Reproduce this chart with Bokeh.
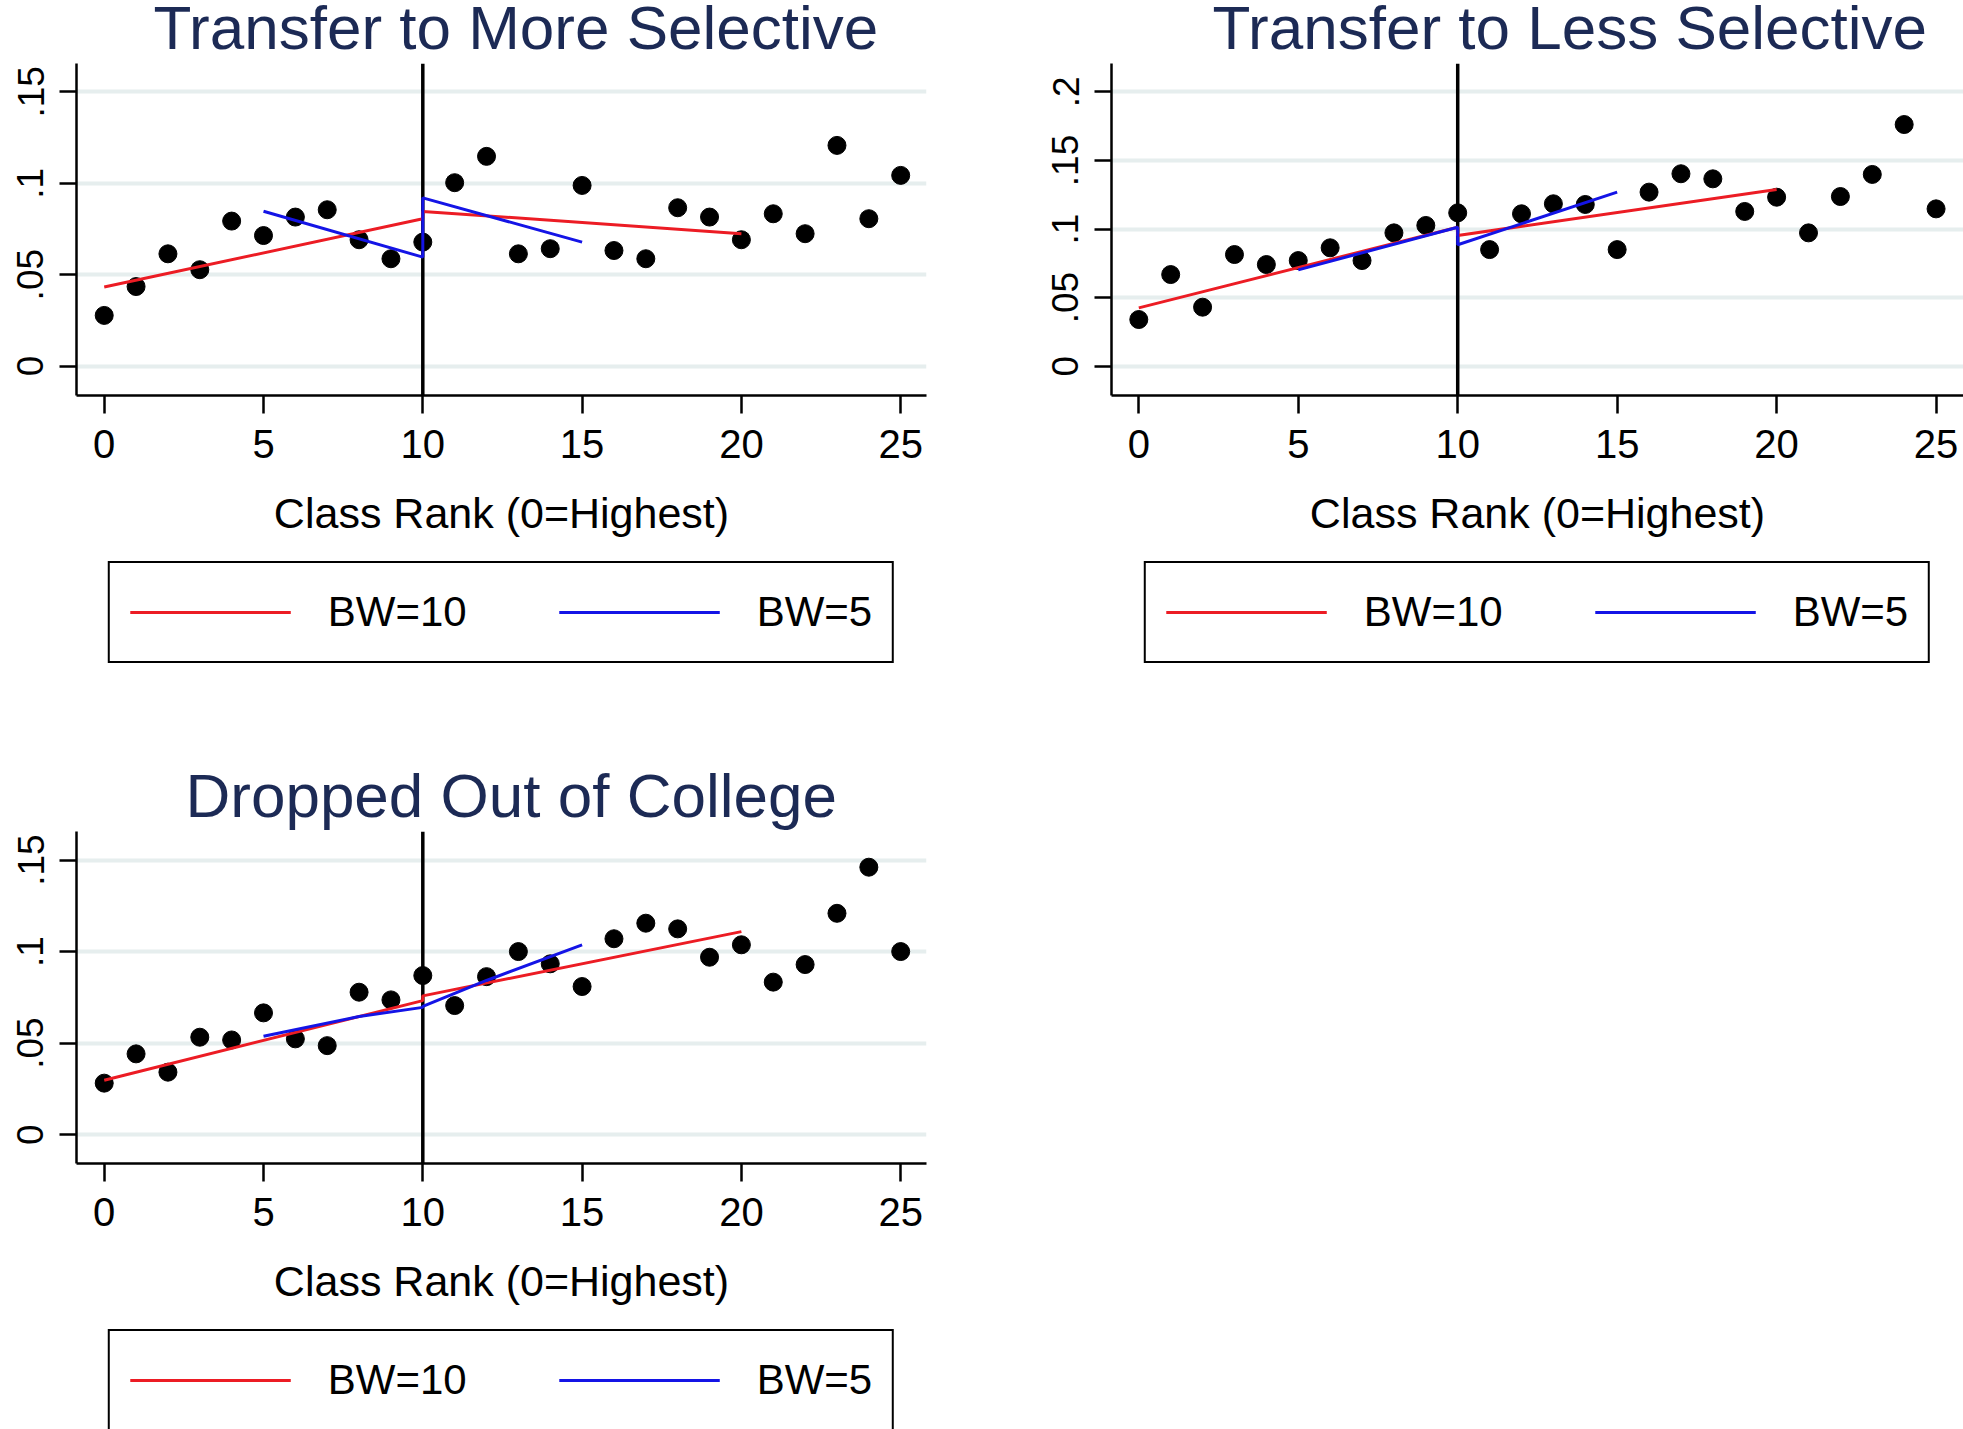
import numpy as np
from bokeh.plotting import figure
from bokeh.layouts import column, row
from bokeh.models import Span, Legend, LegendItem, FixedTicker, Range1d, Label
from bokeh.embed import file_html
from bokeh.resources import INLINE

# ---------------- data ----------------
rank = list(range(26))
more_selective = [0.0277, 0.0435, 0.0614, 0.0527, 0.0793, 0.0714, 0.0815, 0.0855, 0.0691, 0.0587,
                  0.0678, 0.1003, 0.1147, 0.0614, 0.0642, 0.0988, 0.0632, 0.0587, 0.0866, 0.0815,
                  0.0691, 0.0833, 0.0724, 0.1207, 0.0806, 0.1043]
less_selective = [0.0340, 0.0668, 0.0430, 0.0814, 0.0741, 0.0770, 0.0863, 0.0770, 0.0972, 0.1026,
                  0.1118, 0.0850, 0.1111, 0.1184, 0.1179, 0.0850, 0.1269, 0.1403, 0.1366, 0.1128,
                  0.1232, 0.0972, 0.1237, 0.1398, 0.1762, 0.1147]
dropped_out = [0.0281, 0.0441, 0.0341, 0.0532, 0.0517, 0.0665, 0.0523, 0.0486, 0.0778, 0.0736,
               0.0869, 0.0705, 0.0863, 0.1000, 0.0933, 0.0809, 0.1070, 0.1155, 0.1124, 0.0969,
               0.1037, 0.0833, 0.0929, 0.1209, 0.1461, 0.1000]

fit_x_bw10 = [0, 10, 10, 20]
fit_x_bw5 = [5, 10, 10, 15]
more_bw10 = [0.0432, 0.0806, 0.0846, 0.0724]
more_bw5 = [0.0847, 0.0596, 0.0920, 0.0678]
less_bw10 = [0.0425, 0.1013, 0.0953, 0.1288]
less_bw5 = [0.0702, 0.1013, 0.0885, 0.1269]
drop_bw10 = [0.0297, 0.0732, 0.0758, 0.1109]
drop_x_bw5 = [5, 8, 10, 10, 12, 15]
drop_bw5 = [0.0537, 0.0645, 0.0695, 0.0700, 0.0842, 0.1037]

cutoff = 10
x_ticks = [0, 5, 10, 15, 20, 25]
y_ticks_a = [0, 0.05, 0.1, 0.15]
y_labels_a = ["0", ".05", ".1", ".15"]
y_ticks_b = [0, 0.05, 0.1, 0.15, 0.2]
y_labels_b = ["0", ".05", ".1", ".15", ".2"]
titles = ["Transfer to More Selective", "Transfer to Less Selective", "Dropped Out of College"]
x_title = "Class Rank (0=Highest)"
legend_labels = ["BW=10", "BW=5"]

# ---------------- styling ----------------
FONT = "Liberation Sans"
TITLE_COLOR = "#1c2a55"
RED = "#ec1c24"
BLUE = "#1414e6"
GRID = "#e6eeee"
LEFT, TITLE_H, FH, PLOT_H = 76, 63, 332, 497
LINE_W = 3


def bare(f):
    f.grid.visible = False
    f.outline_line_color = None
    f.background_fill_color = "white"
    f.border_fill_color = "white"
    return f


def title_fig(text, width, frame_w, left_x):
    # frame is aligned with the plot frame below, so use canvas-pixel data units
    t = figure(width=width, height=TITLE_H,
               x_range=Range1d(LEFT, LEFT + frame_w), y_range=Range1d(0, TITLE_H),
               output_backend="svg", toolbar_location=None,
               x_axis_location=None, y_axis_location=None,
               min_border_left=LEFT, min_border_right=width - LEFT - frame_w,
               min_border_top=0, min_border_bottom=0)
    bare(t)
    t.add_layout(Label(x=left_x, y=36, text=text, text_align="left",
                       text_baseline="alphabetic", text_font=FONT,
                       text_font_size="62px", text_color=TITLE_COLOR))
    return t


def legend_fig(width, height, frame_w):
    lf = figure(width=width, height=height, x_range=Range1d(0, 1), y_range=Range1d(0, 1),
                output_backend="svg", toolbar_location=None,
                x_axis_location=None, y_axis_location=None,
                min_border_left=LEFT, min_border_right=width - LEFT - frame_w,
                min_border_top=0, min_border_bottom=0)
    bare(lf)
    # legend proxies (no visible data)
    r10 = lf.line(np.array([np.nan]), np.array([np.nan]), line_color=RED, line_width=LINE_W)
    r5 = lf.line(np.array([np.nan]), np.array([np.nan]), line_color=BLUE, line_width=LINE_W)
    legend = Legend(items=[LegendItem(label=legend_labels[0], renderers=[r10]),
                           LegendItem(label=legend_labels[1], renderers=[r5])],
                    orientation="horizontal", location="top_center", margin=1,
                    padding=20, spacing=92, label_standoff=37,
                    glyph_width=161, glyph_height=58, label_height=58,
                    label_text_font=FONT, label_text_font_size="42px",
                    label_text_color="black",
                    border_line_color="black", border_line_width=2.5, border_line_alpha=1.0,
                    background_fill_color="white", background_fill_alpha=1.0)
    lf.add_layout(legend)
    return lf


def plot_fig(yvals, x10, y10, x5, y5, yticks, ylabels, xr, yr, width, frame_w):
    p = figure(width=width, height=PLOT_H,
               x_range=Range1d(*xr), y_range=Range1d(*yr),
               output_backend="svg", toolbar_location=None,
               min_border_left=LEFT, min_border_right=width - LEFT - frame_w,
               min_border_top=0, min_border_bottom=PLOT_H - FH)
    bare(p)
    p.ygrid.visible = True
    p.ygrid.ticker = FixedTicker(ticks=yticks)
    p.ygrid.grid_line_color = GRID
    p.ygrid.grid_line_width = 4

    xa = p.xaxis[0]
    xa.ticker = FixedTicker(ticks=x_ticks)
    xa.minor_tick_line_color = None
    xa.major_tick_in = 0
    xa.major_tick_out = 18
    xa.major_tick_line_width = 2.5
    xa.axis_line_width = 2.5
    xa.major_label_text_font = FONT
    xa.major_label_text_font_size = "40px"
    xa.major_label_text_color = "black"
    xa.major_label_standoff = 16
    xa.axis_label = x_title
    xa.axis_label_text_font = FONT
    xa.axis_label_text_font_size = "43px"
    xa.axis_label_text_font_style = "normal"
    xa.axis_label_text_color = "black"
    xa.axis_label_standoff = 28

    ya = p.yaxis[0]
    ya.ticker = FixedTicker(ticks=yticks)
    ya.major_label_overrides = dict(zip(yticks, ylabels))
    ya.minor_tick_line_color = None
    ya.major_tick_in = 0
    ya.major_tick_out = 17
    ya.major_tick_line_width = 2.5
    ya.axis_line_width = 2.5
    ya.major_label_orientation = "vertical"
    ya.major_label_text_font = FONT
    ya.major_label_text_font_size = "37px"
    ya.major_label_text_color = "black"
    ya.major_label_standoff = 16

    p.add_layout(Span(location=cutoff, dimension="height", line_color="black",
                      line_width=3.5, level="underlay"))

    p.scatter(rank, yvals, size=18, color="black")
    p.line(x10, y10, line_color=RED, line_width=LINE_W)
    p.line(x5, y5, line_color=BLUE, line_width=LINE_W)
    return p


# panel 1
t1 = title_fig(titles[0], 1035, 850, 153)
p1 = plot_fig(more_selective, fit_x_bw10, more_bw10, fit_x_bw5, more_bw5,
              y_ticks_a, y_labels_a, (-0.87, 25.81), (-0.0161, 0.1655), 1035, 850)
l1 = legend_fig(1035, 768 - TITLE_H - PLOT_H, 850)

# panel 2
t2 = title_fig(titles[1], 928, 852, 177)
p2 = plot_fig(less_selective, fit_x_bw10, less_bw10, fit_x_bw5, less_bw5,
              y_ticks_b, y_labels_b, (-0.856, 25.86), (-0.0214, 0.2207), 928, 852)
l2 = legend_fig(928, 768 - TITLE_H - PLOT_H, 852)

# panel 3
t3 = title_fig(titles[2], 1035, 850, 185)
p3 = plot_fig(dropped_out, fit_x_bw10, drop_bw10, drop_x_bw5, drop_bw5,
              y_ticks_a, y_labels_a, (-0.87, 25.81), (-0.0158, 0.1656), 1035, 850)
l3 = legend_fig(1035, 661 - TITLE_H - PLOT_H, 850)

layout = column(row(column(t1, p1, l1), column(t2, p2, l2)),
                row(column(t3, p3, l3)))
open("out.html", "w").write(file_html(layout, INLINE))
